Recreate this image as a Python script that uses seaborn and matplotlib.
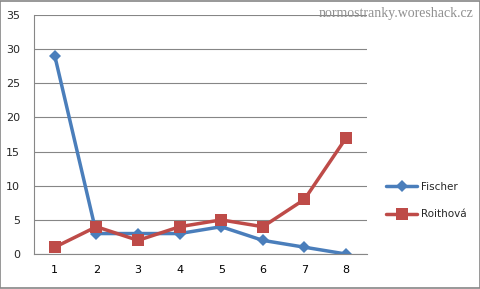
import matplotlib
matplotlib.use("Agg")
import matplotlib.pyplot as plt
import seaborn as sns
import pandas as pd
import numpy as np

categories = [1, 2, 3, 4, 5, 6, 7, 8]
fischer = [29, 3, 3, 3, 4, 2, 1, 0]
roithova = [1, 4, 2, 4, 5, 4, 8, 17]
series_names = ["Fischer", "Roithová"]
y_ticks = [0, 5, 10, 15, 20, 25, 30, 35]

df = pd.DataFrame({
    "x": categories * 2,
    "y": fischer + roithova,
    "series": [series_names[0]] * len(categories) + [series_names[1]] * len(categories),
})

sns.set_style("white")
plt.rcParams['font.family'] = ['Verdana', 'DejaVu Sans']

fig = plt.figure(figsize=(4.81, 2.89), dpi=100)
ax = fig.add_axes([0.0707, 0.121, 0.692, 0.827])

palette = {"Fischer": "#4A7EBB", "Roithová": "#BE4B48"}
markers = {"Fischer": "D", "Roithová": "s"}
sizes = {"Fischer": 6, "Roithová": 8}
for name in series_names:
    sub = df[df["series"] == name]
    sns.lineplot(data=sub, x="x", y="y", ax=ax, color=palette[name], marker=markers[name],
                 markersize=sizes[name], markeredgewidth=0, linewidth=2.5, label=name)

ax.set_xlim(0.5, 8.5)
ax.set_ylim(0, 35)
ax.set_yticks(y_ticks)
ax.set_xticks(categories)
ax.set_xticks(np.arange(0.5, 9.0, 1.0), minor=True)
ax.tick_params(axis='x', which='major', length=0, pad=8, labelsize=8, colors='black')
ax.tick_params(axis='x', which='minor', length=4, color='#878787', direction='out')
ax.tick_params(axis='y', which='major', length=4, color='#878787', direction='out', labelsize=8, pad=6)
ax.grid(axis='y', color='#868686', linewidth=0.8)
ax.set_axisbelow(True)
ax.set_xlabel("")
ax.set_ylabel("")
for s in ["top", "right"]:
    ax.spines[s].set_visible(False)
for s in ["left", "bottom"]:
    ax.spines[s].set_color('#878787')
    ax.spines[s].set_linewidth(0.8)

leg = ax.legend(loc='center left', bbox_to_anchor=(1.03, 0.224), frameon=False, fontsize=7.5,
                handlelength=3.0, labelspacing=1.7, handletextpad=0.3)

fig.text(0.985, 0.975, "normostranky.woreshack.cz", ha='right', va='top',
         fontsize=10, color='#909090', family=['Liberation Serif', 'DejaVu Serif'])

border = plt.Rectangle((0.001, 0.002), 0.997, 0.995, transform=fig.transFigure,
                       fill=False, edgecolor='#868686', linewidth=1.2)
fig.patches.append(border)

fig.savefig("out.png", dpi=100)
